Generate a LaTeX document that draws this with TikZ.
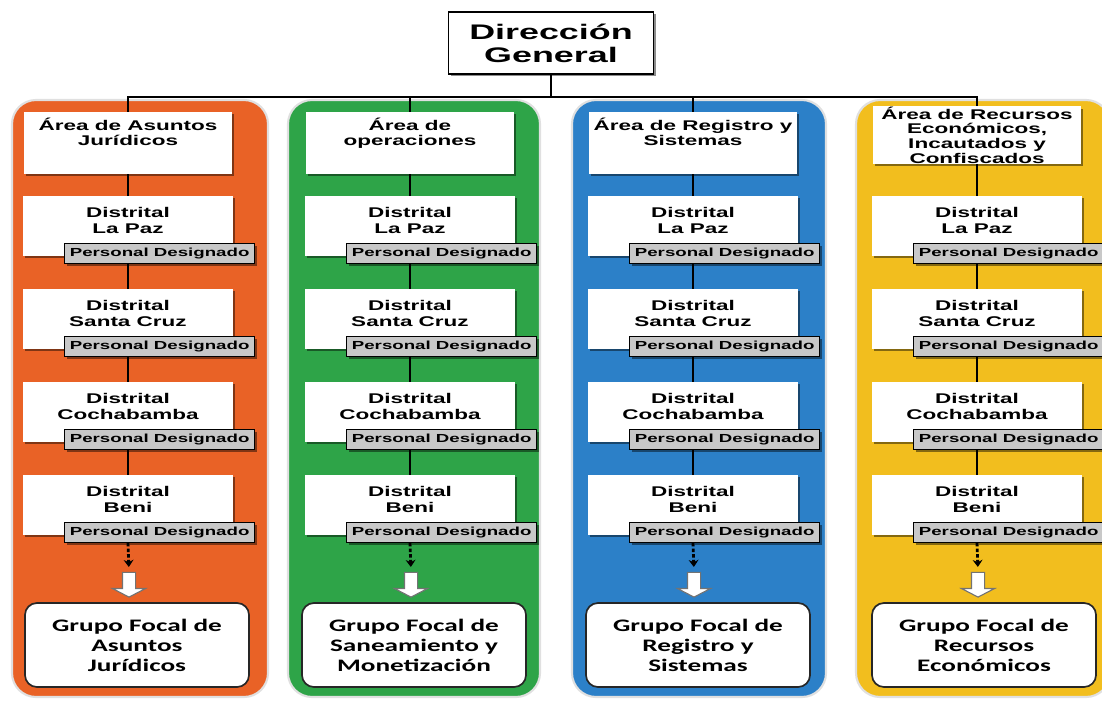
\documentclass[tikz,border=0pt]{standalone}
\usepackage{fontspec}
\usetikzlibrary{shadows,shapes.arrows,arrows.meta}
\newfontfamily\TitleFont{Liberation Sans}[FakeStretch=1.7]
\newfontfamily\OrgFont{Liberation Sans}[FakeStretch=1.6]
\newfontfamily\GrupoFont{Carlito}[FakeStretch=1.55]
\definecolor{JurClr}{RGB}{233,98,38}
\definecolor{OpeClr}{RGB}{46,164,72}
\definecolor{RegClr}{RGB}{44,128,200}
\definecolor{EcoClr}{RGB}{242,190,30}
\definecolor{PersClr}{RGB}{200,200,200}

\tikzset{
  Sombra/.style={drop shadow={shadow xshift=0.06cm, shadow yshift=-0.06cm, fill=black, opacity=0.45}},
  PanelBox/.style={draw=black!12, line width=1.5pt, rounded corners=0.6cm},
  TitleBox/.style={draw, line width=1pt, fill=white, minimum width=5.125cm, minimum height=1.55cm, align=center, inner sep=0pt, Sombra, font=\TitleFont\bfseries\fontsize{15}{16.5}\selectfont},
  AreaBox/.style={fill=white, minimum width=5.2cm, minimum height=1.55cm, inner sep=0pt, Sombra, font=\OrgFont\bfseries\fontsize{10}{10.5}\selectfont},
  DistBox/.style={fill=white, minimum width=5.25cm, minimum height=1.5cm, inner sep=0pt, Sombra, font=\OrgFont\bfseries\fontsize{10}{12}\selectfont},
  PersBox/.style={draw, line width=0.9pt, fill=PersClr, minimum width=4.75cm, minimum height=0.5cm, inner sep=1pt, Sombra, font=\OrgFont\bfseries\fontsize{8.3}{9}\selectfont},
  GrupoBox/.style={draw=black!85, line width=1.2pt, fill=white, rounded corners=0.3cm, minimum width=5.6cm, minimum height=2.1cm, align=center, font=\GrupoFont\bfseries\fontsize{12.5}{14.2}\selectfont},
  Flecha/.style={single arrow, shape border rotate=270, draw=black!55, line width=0.8pt, fill=white, inner sep=0.15cm, minimum height=0.62cm, single arrow head extend=0.25cm, single arrow tip angle=125},
  Linea/.style={line width=1.1pt},
  Punteada/.style={line width=2pt, dash pattern=on 2.5pt off 1.5pt, -{Stealth[length=5pt,width=7pt]}, shorten >=0.12cm}
}

\newcommand{\ArribaTxt}[1]{\parbox[c][1.45cm][t]{5.1cm}{\centering\vspace*{3pt}#1}}
\newcommand{\Distrital}[3]{%
  \node[DistBox] (#1) at (#2) {\parbox[c][1.45cm][t]{5.15cm}{\centering\vspace*{7pt}Distrital\\#3}};
  \node[PersBox, anchor=east] (#1PD) at ([xshift=0.55cm,yshift=0.075cm]#1.south east) {Personal Designado};
}

\begin{document}
\begin{tikzpicture}[x=0.025cm, y=-0.025cm]
\useasboundingbox (0,0) rectangle (1102,702);

% paneles de color
\filldraw[PanelBox, fill=JurClr] (12,100) rectangle (268,697);
\filldraw[PanelBox, fill=OpeClr] (288,100) rectangle (540,697);
\filldraw[PanelBox, fill=RegClr] (572,100) rectangle (826,697);
\filldraw[PanelBox, fill=EcoClr] (856,100) rectangle (1110,697);

\node[TitleBox] (DG) at (551,43) {Direcci\'on\\General};
\coordinate (Bus) at (551,97);

\node[AreaBox] (JurArea) at (128,143) {\ArribaTxt{Área de Asuntos\\Jurídicos}};
\node[AreaBox] (OpeArea) at (410,143) {\ArribaTxt{Área de\\operaciones}};
\node[AreaBox] (RegArea) at (693,143) {\ArribaTxt{Área de Registro y\\Sistemas}};
\node[AreaBox, minimum height=1.43cm, align=center] (EcoArea) at (977,135) {Área de Recursos\\Económicos,\\Incautados y\\Confiscados};

\Distrital{JurLP}{128,226}{La Paz}
\Distrital{JurSC}{128,319}{Santa Cruz}
\Distrital{JurCB}{128,412}{Cochabamba}
\Distrital{JurBE}{128,505}{Beni}

\Distrital{OpeLP}{410,226}{La Paz}
\Distrital{OpeSC}{410,319}{Santa Cruz}
\Distrital{OpeCB}{410,412}{Cochabamba}
\Distrital{OpeBE}{410,505}{Beni}

\Distrital{RegLP}{693,226}{La Paz}
\Distrital{RegSC}{693,319}{Santa Cruz}
\Distrital{RegCB}{693,412}{Cochabamba}
\Distrital{RegBE}{693,505}{Beni}

\Distrital{EcoLP}{977,226}{La Paz}
\Distrital{EcoSC}{977,319}{Santa Cruz}
\Distrital{EcoCB}{977,412}{Cochabamba}
\Distrital{EcoBE}{977,505}{Beni}

\node[Flecha] (JurFl) at (129,583) {};
\node[Flecha] (OpeFl) at (411,583) {};
\node[Flecha] (RegFl) at (694,583) {};
\node[Flecha] (EcoFl) at (978,583) {};

\node[GrupoBox] (JurGF) at (137,645) {Grupo Focal de\\Asuntos\\Jurídicos};
\node[GrupoBox] (OpeGF) at (414,645) {Grupo Focal de\\Saneamiento y\\Monetización};
\node[GrupoBox] (RegGF) at (698,645) {Grupo Focal de\\Registro y\\Sistemas};
\node[GrupoBox] (EcoGF) at (984,645) {Grupo Focal de\\Recursos\\Económicos};

% organigrama
\draw[Linea] (DG.south) -- (Bus);
\draw[Linea] (JurArea.north) |- (Bus) -| (EcoArea.north);
\draw[Linea] (OpeArea.north) -- (OpeArea.north |- Bus);
\draw[Linea] (RegArea.north) -- (RegArea.north |- Bus);

\draw[Linea] (JurArea) -- (JurLP);
\draw[Linea] (JurLPPD.south -| JurLP) -- (JurSC);
\draw[Linea] (JurSCPD.south -| JurSC) -- (JurCB);
\draw[Linea] (JurCBPD.south -| JurCB) -- (JurBE);
\draw[Punteada] (JurBEPD.south -| JurBE) -- (JurFl.tail);

\draw[Linea] (OpeArea) -- (OpeLP);
\draw[Linea] (OpeLPPD.south -| OpeLP) -- (OpeSC);
\draw[Linea] (OpeSCPD.south -| OpeSC) -- (OpeCB);
\draw[Linea] (OpeCBPD.south -| OpeCB) -- (OpeBE);
\draw[Punteada] (OpeBEPD.south -| OpeBE) -- (OpeFl.tail);

\draw[Linea] (RegArea) -- (RegLP);
\draw[Linea] (RegLPPD.south -| RegLP) -- (RegSC);
\draw[Linea] (RegSCPD.south -| RegSC) -- (RegCB);
\draw[Linea] (RegCBPD.south -| RegCB) -- (RegBE);
\draw[Punteada] (RegBEPD.south -| RegBE) -- (RegFl.tail);

\draw[Linea] (EcoArea) -- (EcoLP);
\draw[Linea] (EcoLPPD.south -| EcoLP) -- (EcoSC);
\draw[Linea] (EcoSCPD.south -| EcoSC) -- (EcoCB);
\draw[Linea] (EcoCBPD.south -| EcoCB) -- (EcoBE);
\draw[Punteada] (EcoBEPD.south -| EcoBE) -- (EcoFl.tail);

\end{tikzpicture}
\end{document}
